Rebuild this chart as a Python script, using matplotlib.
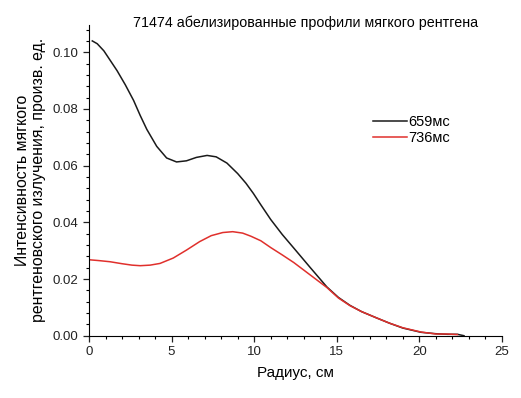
import matplotlib
matplotlib.use('Agg')
import matplotlib.pyplot as plt
from matplotlib.ticker import MultipleLocator, AutoMinorLocator, FormatStrFormatter

plt.rcParams['font.family'] = ['Liberation Sans', 'DejaVu Sans']

# радиус, см / интенсивность для 659 мс
r_659 = [0.2, 0.5, 0.9, 1.3, 1.7, 2.2, 2.7, 3.1, 3.5, 4.1, 4.7, 5.3, 5.9, 6.5,
         7.15, 7.7, 8.35, 9.0, 9.5, 9.95, 10.4, 11.0, 11.7, 12.4, 13.4, 14.4,
         15.1, 15.8, 16.5, 17.4, 18.2, 19.0, 20.1, 21.0, 21.7, 22.3, 22.7]
i_659 = [0.1040, 0.1030, 0.1005, 0.0970, 0.0935, 0.0885, 0.0830, 0.0777,
         0.0728, 0.0668, 0.0627, 0.0613, 0.0617, 0.0629, 0.0636, 0.0631,
         0.0609, 0.0572, 0.0538, 0.0502, 0.0462, 0.0410, 0.0357, 0.0309,
         0.0240, 0.0172, 0.0135, 0.0107, 0.0085, 0.0063, 0.0044, 0.0027,
         0.0012, 0.0007, 0.0005, 0.0005, 0.0000]

# то же для 736 мс
r_736 = [0.0, 0.6, 1.27, 2.0, 2.6, 3.1, 3.7, 4.3, 5.1, 5.9, 6.7, 7.4, 8.1,
         8.7, 9.3, 9.8, 10.4, 11.0, 11.7, 12.4, 13.4, 14.4, 15.1, 15.8,
         16.5, 17.4, 18.2, 19.0, 20.1, 21.0, 21.7, 22.3]
i_736 = [0.0268, 0.0265, 0.0261, 0.0254, 0.0249, 0.0247, 0.0249, 0.0255,
         0.0274, 0.0302, 0.0332, 0.0353, 0.0364, 0.0367, 0.0362, 0.0351,
         0.0335, 0.0311, 0.0285, 0.0258, 0.0214, 0.0170, 0.0133, 0.0106,
         0.0085, 0.0063, 0.0044, 0.0028, 0.0013, 0.0006, 0.0006, 0.0004]

labels = ['659мс', '736мс']

fig = plt.figure(figsize=(5.21, 3.98), dpi=100)
ax = fig.add_axes([0.1708, 0.1565, 0.7927, 0.7806])

ax.plot(r_659, i_659, color='#1a1a1a', lw=1.1, label=labels[0])
ax.plot(r_736, i_736, color='#e0302c', lw=1.1, label=labels[1])

ax.set_xlim(0, 25)
ax.set_ylim(0, 0.1096)
ax.xaxis.set_major_locator(MultipleLocator(5))
ax.xaxis.set_minor_locator(MultipleLocator(1))
ax.yaxis.set_major_locator(MultipleLocator(0.02))
ax.yaxis.set_minor_locator(AutoMinorLocator(5))
ax.yaxis.set_major_formatter(FormatStrFormatter('%.2f'))

for s in ['top', 'right']:
    ax.spines[s].set_visible(False)
ax.tick_params(which='major', direction='out', length=4, width=0.9, labelsize=9.5, colors='#222222')
ax.tick_params(which='minor', direction='out', length=2, width=0.8)

ax.set_xlabel('Радиус, см', fontsize=11, labelpad=6)
ax.set_ylabel('Интенсивность мягкого\nрентгеновского излучения, произв. ед.',
              fontsize=11.4, labelpad=5, linespacing=1.05)

fig.text(0.586, 0.943, '71474 абелизированные профили мягкого рентгена',
         ha='center', va='center', fontsize=10.3)

ax.legend(loc='upper left', bbox_to_anchor=(0.716, 0.712), bbox_transform=fig.transFigure,
          frameon=False, fontsize=10.5, handlelength=2.35, handletextpad=0.08,
          borderpad=0, borderaxespad=0, labelspacing=0.15)

fig.savefig('out.png', dpi=100)
